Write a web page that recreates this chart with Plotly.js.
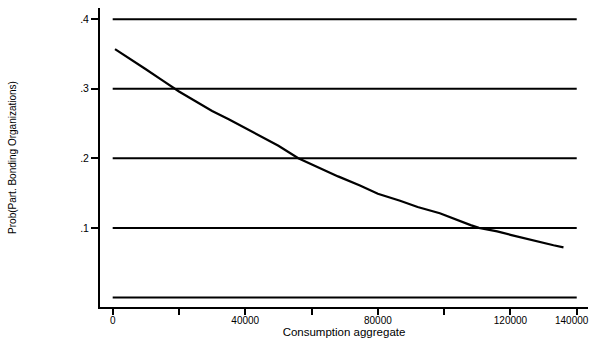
<!DOCTYPE html>
<html>
<head>
<meta charset="utf-8">
<script src="https://cdn.plot.ly/plotly-3.0.1.min.js"></script>
<style>html,body{margin:0;padding:0;background:#fff;}#chart{width:592px;height:338px;}</style>
</head>
<body>
<div id="chart"></div>
<script>
// Consumption aggregate (x) and predicted probability (y)
const consumption = [700, 5000, 10000, 15000, 20000, 25000, 30000, 35000, 40000, 45000, 50000, 56000, 62500, 68000, 74600, 80000, 86700, 92000, 98700, 104000, 108000, 110500, 116000, 120000, 125000, 130000, 133000, 136000];
const probability = [0.357, 0.343, 0.328, 0.312, 0.296, 0.282, 0.268, 0.256, 0.243, 0.230, 0.218, 0.200, 0.186, 0.174, 0.161, 0.149, 0.139, 0.130, 0.121, 0.111, 0.104, 0.100, 0.095, 0.090, 0.084, 0.079, 0.075, 0.072];

const gridValues = [0, 0.1, 0.2, 0.3, 0.4];
const yTickVals = [0.1, 0.2, 0.3, 0.4];
const yTickText = ['.1', '.2', '.3', '.4'];
const xTickVals = [0, 20000, 40000, 60000, 80000, 100000, 120000, 140000];
const xTickText = ['0', '', '40000', '', '80000', '', '120000', ''];
const lastXLabel = {value: 140000, text: '140000'};
const gridStart = 0, gridEnd = 140000;

const shapes = gridValues.map(v => ({
  type: 'line', xref: 'x', yref: 'y',
  x0: gridStart, x1: gridEnd, y0: v, y1: v,
  line: {color: '#000', width: 2}, layer: 'below'
}));

const trace = {
  x: consumption, y: probability, type: 'scatter', mode: 'lines',
  line: {color: '#000', width: 2.2}, hoverinfo: 'skip'
};

const fam = 'Liberation Sans, Arial, sans-serif';

const layout = {
  width: 592, height: 338,
  margin: {l: 100, r: 4, t: 8, b: 31},
  paper_bgcolor: '#fff', plot_bgcolor: '#fff',
  showlegend: false,
  font: {family: fam, size: 10, color: '#000'},
  shapes: shapes,
  annotations: [{
    x: lastXLabel.value, xref: 'x', y: 0, yref: 'paper',
    text: lastXLabel.text, showarrow: false,
    xanchor: 'center', yanchor: 'top', xshift: -5, yshift: -6,
    font: {family: fam, size: 10, color: '#000'}
  }],
  xaxis: {
    range: [-3830, 143400], showgrid: false, zeroline: false,
    showline: true, linecolor: '#000', linewidth: 2,
    tickmode: 'array', tickvals: xTickVals, ticktext: xTickText,
    ticks: 'outside', ticklen: 6, tickwidth: 2, tickcolor: '#000',
    ticklabelstandoff: -3,
    tickfont: {family: fam, size: 10, color: '#000'},
    title: {text: 'Consumption aggregate', font: {family: fam, size: 11.5, color: '#000'}, standoff: 3},
    automargin: false
  },
  yaxis: {
    range: [-0.0137, 0.416], showgrid: false, zeroline: false,
    showline: true, linecolor: '#000', linewidth: 2,
    tickmode: 'array', tickvals: yTickVals, ticktext: yTickText,
    ticks: 'outside', ticklen: 7, tickwidth: 2, tickcolor: '#000',
    tickfont: {family: fam, size: 10.5, color: '#000'},
    title: {text: 'Prob(Part. Bonding Organizations)', font: {family: fam, size: 10, color: '#000'}, standoff: 62},
    automargin: false
  }
};

Plotly.newPlot('chart', [trace], layout, {displayModeBar: false, staticPlot: true});
</script>
</body>
</html>
